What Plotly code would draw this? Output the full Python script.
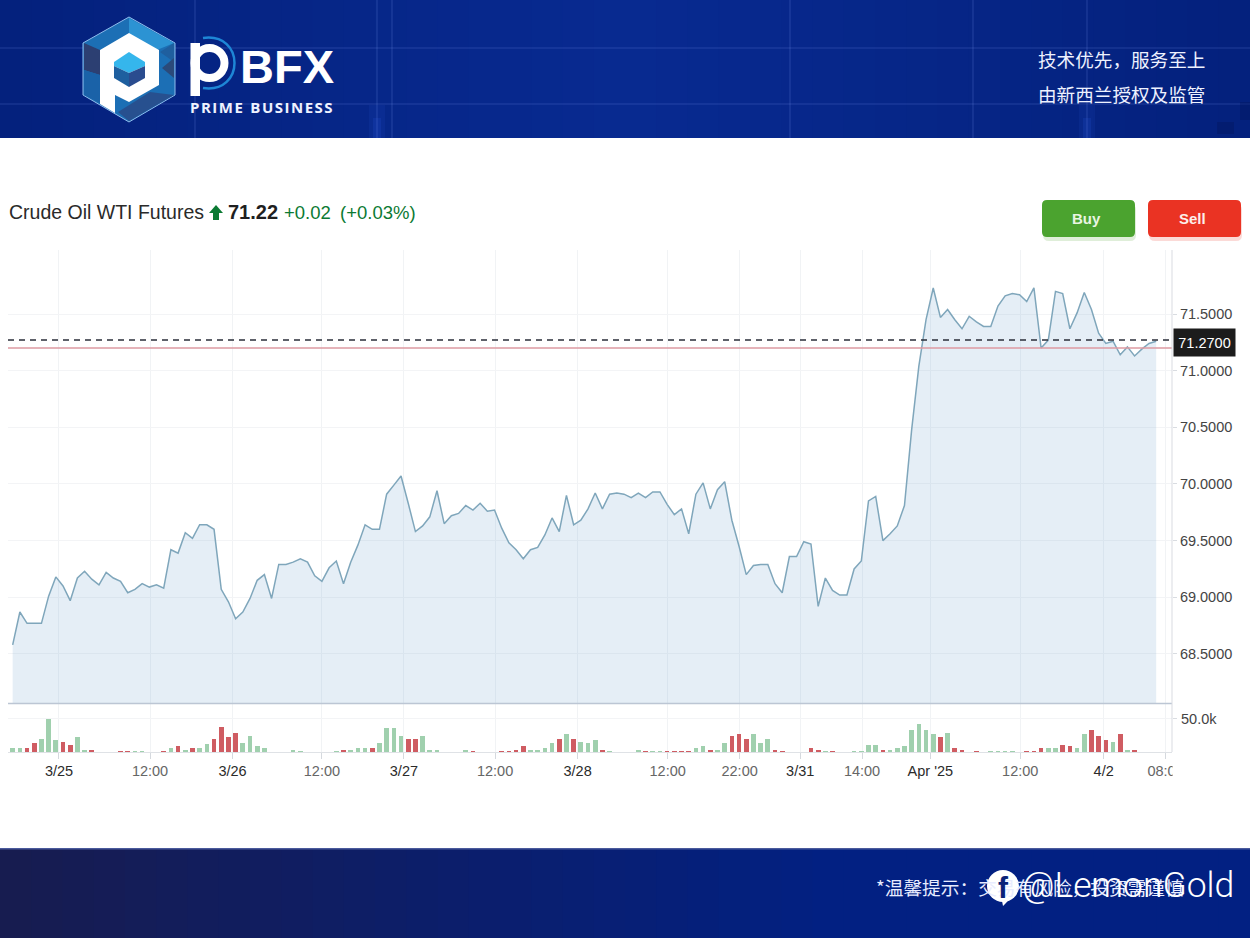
import plotly.graph_objects as go
from plotly.subplots import make_subplots

W, H = 1250, 938
SANS = "Liberation Sans, Arial"
CJK = "Noto Sans CJK SC"

# values
close = [
    68.58, 68.87, 68.77, 68.77, 68.77, 69.01, 69.18, 69.10, 68.97, 69.17,
    69.23, 69.16, 69.11, 69.22, 69.17, 69.14, 69.04, 69.07, 69.12, 69.09,
    69.11, 69.08, 69.42, 69.39, 69.57, 69.52, 69.64, 69.64, 69.60, 69.07,
    68.96, 68.81, 68.87, 68.99, 69.15, 69.20, 68.99, 69.29, 69.29, 69.31,
    69.34, 69.31, 69.19, 69.14, 69.26, 69.32, 69.12, 69.31, 69.46, 69.64,
    69.60, 69.60, 69.91, 69.99, 70.07, 69.83, 69.58, 69.63, 69.71, 69.94,
    69.65, 69.72, 69.74, 69.81, 69.77, 69.83, 69.76, 69.77, 69.61, 69.48,
    69.42, 69.34, 69.42, 69.44, 69.55, 69.70, 69.58, 69.90, 69.64, 69.68,
    69.78, 69.92, 69.78, 69.91, 69.92, 69.91, 69.88, 69.92, 69.88, 69.93,
    69.93, 69.82, 69.73, 69.78, 69.56, 69.91, 70.01, 69.78, 69.95, 70.02,
    69.68, 69.45, 69.20, 69.28, 69.29, 69.29, 69.12, 69.04, 69.36, 69.36,
    69.49, 69.47, 68.92, 69.17, 69.06, 69.02, 69.02, 69.25, 69.32, 69.85,
    69.89, 69.50, 69.56, 69.63, 69.81, 70.48, 71.04, 71.45, 71.73, 71.47,
    71.54, 71.45, 71.37, 71.48, 71.43, 71.39, 71.39, 71.57, 71.66, 71.68,
    71.67, 71.61, 71.73, 71.20, 71.27, 71.70, 71.68, 71.37, 71.51, 71.69,
    71.54, 71.33, 71.24, 71.26, 71.14, 71.21, 71.13, 71.19, 71.24, 71.26,
]
volume_k = [
    5.6, 5.6, 6.1, 13.1, 20.2, 50.0, 17.7, 15.2, 10.6, 22.2,
    3.5, 3.5, 0, 0, 0, 1.5, 1.5, 1.0, 1.0, 0,
    0, 1.5, 6.1, 8.6, 3.5, 6.1, 5.6, 12.6, 20.2, 38.4,
    22.2, 29.3, 13.1, 24.2, 8.6, 5.6, 0, 0, 0, 3.0,
    1.0, 0, 0, 0, 0, 1.0, 3.5, 3.0, 5.6, 5.6,
    5.6, 13.1, 35.9, 35.9, 24.2, 20.2, 20.2, 24.2, 3.5, 3.5,
    0, 0, 0, 3.5, 1.5, 0, 0, 0, 1.5, 1.5,
    3.5, 8.6, 3.5, 3.5, 5.6, 13.1, 20.2, 26.8, 20.2, 15.2,
    13.1, 17.7, 3.5, 0.5, 0, 0, 0, 3.5, 1.0, 1.0,
    1.0, 1.5, 1.5, 1.0, 1.0, 5.6, 8.6, 3.5, 3.5, 13.1,
    24.2, 26.8, 20.2, 26.8, 13.1, 20.2, 3.5, 1.0, 0, 0,
    0, 5.6, 3.5, 1.0, 1.0, 0, 0, 1.0, 1.0, 10.6,
    10.6, 3.5, 3.0, 5.6, 8.6, 33.3, 42.9, 33.3, 26.8, 22.2,
    29.3, 5.6, 3.5, 0, 1.0, 0, 1.0, 1.0, 1.0, 1.0,
    0, 1.0, 1.0, 5.6, 5.6, 5.6, 10.6, 8.6, 5.6, 26.8,
    33.3, 24.2, 17.7, 15.2, 26.8, 3.5, 3.5, 0, 0, 0,
]
volume_side = list(
    "ggrrgggrrg" "grgggrrggg" "grgrgrggrr" "rrgggggggg" "ggggggrggg"
    "rggggrrggg" "ggggrgggrr" "rrggggrgrg" "ggrgggggrg" "grrrrggrgg"
    "rrrgggrrgg" "grrgrggggg" "grgggggggr" "grrgrggggg" "grrrggrrgg"
    "rrrgrgrggg"
)
tick_pos = [6.44, 19.1, 30.57, 43.0, 54.4, 67.08, 78.55, 91.07, 101.08, 109.5,
            118.1, 127.6, 140.1, 151.7, 160.3]
tick_labels = ["3/25", "12:00", "3/26", "12:00", "3/27", "12:00", "3/28", "12:00",
               "22:00", "3/31", "14:00", "Apr '25", "12:00", "4/2", "08:00"]
price_ticks = [68.5, 69.0, 69.5, 70.0, 70.5, 71.0, 71.5]
last_price = 71.27
prev_line = 71.20

index = list(range(len(close)))


def px(x):
    return x / W


def py(y):
    return 1 - y / H


def rect(x0, y0, x1, y1, color, layer="above"):
    return dict(type="rect", xref="paper", yref="paper", x0=px(x0), x1=px(x1),
                y0=py(y0), y1=py(y1), fillcolor=color, line_width=0, layer=layer)


def poly(points, color, line=None):
    path = "M" + " L".join(f"{px(x):.5f},{py(y):.5f}" for x, y in points) + " Z"
    return dict(type="path", xref="paper", yref="paper", path=path, fillcolor=color,
                line=dict(color=line or "rgba(0,0,0,0)", width=1 if line else 0), layer="above")


def circle(cx, cy, r, color, line=None, lw=0):
    return dict(type="circle", xref="paper", yref="paper", x0=px(cx - r), x1=px(cx + r),
                y0=py(cy + r), y1=py(cy - r), fillcolor=color,
                line=dict(color=line or "rgba(0,0,0,0)", width=lw), layer="above")


def round_box(x0, y0, x1, y1, r, color):
    path = (f"M{px(x0 + r)},{py(y0)} L{px(x1 - r)},{py(y0)} Q{px(x1)},{py(y0)} {px(x1)},{py(y0 + r)} "
            f"L{px(x1)},{py(y1 - r)} Q{px(x1)},{py(y1)} {px(x1 - r)},{py(y1)} "
            f"L{px(x0 + r)},{py(y1)} Q{px(x0)},{py(y1)} {px(x0)},{py(y1 - r)} "
            f"L{px(x0)},{py(y0 + r)} Q{px(x0)},{py(y0)} {px(x0 + r)},{py(y0)} Z")
    return dict(type="path", xref="paper", yref="paper", path=path,
                fillcolor=color, line_width=0, layer="above")


def mix(c0, c1, t):
    return "rgb(" + ",".join(str(round(a + (b - a) * t)) for a, b in zip(c0, c1)) + ")"


def label(x, y, text, size, color, family=SANS, anchor="left", bold=False, weight=None):
    font = dict(size=size, color=color, family=family)
    if weight:
        font["weight"] = weight
    return dict(xref="paper", yref="paper", x=px(x), y=py(y), text=f"<b>{text}</b>" if bold else text,
                showarrow=False, xanchor=anchor, yanchor="middle", font=font)


fig = make_subplots(rows=2, cols=1, shared_xaxes=True, vertical_spacing=0)

fig.add_trace(go.Scatter(x=index, y=close, mode="lines", fill="tozeroy",
                         line=dict(color="#7fa6bb", width=1.5),
                         fillcolor="rgba(125,170,210,0.2)", hoverinfo="skip"), row=1, col=1)
fig.add_trace(go.Bar(x=index, y=volume_k, width=0.65,
                     marker=dict(color=["#a0d0ae" if s == "g" else "#cf5c62" for s in volume_side],
                                 line_width=0),
                     hoverinfo="skip"), row=2, col=1)

# header / footer bands
shapes = []
strips = 40
for i in range(strips):
    t = i / (strips - 1)
    head = mix((4, 33, 125), (8, 42, 145), 1 - abs(2 * t - 1))
    foot = mix((23, 28, 80), (2, 32, 130), min(1, t * 1.5))
    x0, x1 = W * i / strips, W * (i + 1) / strips + 1
    shapes.append(rect(x0, 0, x1, 138, head, layer="below"))
    shapes.append(rect(x0, 849, x1, H, foot, layer="below"))
for x in (195, 377, 392, 790, 973, 1087):
    shapes.append(rect(x - 0.8, 0, x + 0.8, 138, "rgba(140,170,255,0.15)", layer="below"))
for y in (48, 104):
    shapes.append(rect(0, y - 0.7, W, y + 0.7, "rgba(140,170,255,0.15)", layer="below"))
# soft glow under the bright verticals
for x in (377, 1087):
    shapes.append(rect(x - 8, 105, x + 8, 138, "rgba(60,110,255,0.08)", layer="below"))
    shapes.append(rect(x - 4, 118, x + 4, 138, "rgba(60,110,255,0.12)", layer="below"))
shapes.append(rect(1217, 122, 1234, 134, "rgba(2,20,90,0.35)", layer="below"))
shapes.append(rect(1240, 102, 1250, 120, "rgba(2,20,90,0.35)", layer="below"))
shapes.append(rect(0, 848, W, 849.5, "#4a5a9c", layer="below"))

# logo
hexagon = [(129, 17), (175, 43), (175, 95), (129, 122), (83, 95), (83, 43)]
shapes.append(poly(hexagon, "#1c6fb5", line="#8fbcec"))
shapes.append(poly([(129, 18), (174, 43), (152, 52), (129, 34)], "#2c93d3"))
shapes.append(poly([(84, 43), (100, 50), (100, 75), (84, 70)], "#2c3f72"))
shapes.append(poly([(84, 70), (100, 75), (100, 103), (84, 95)], "#1a62a8"))
shapes.append(poly([(174, 43), (174, 62), (160, 52)], "#1f5f9f"))
shapes.append(poly([(174, 58), (174, 78), (162, 68)], "#2b4a7a"))
shapes.append(poly([(129, 121), (174, 95), (150, 92), (118, 112)], "#27508f"))
shapes.append(poly([(129, 33), (159, 50), (159, 85), (129, 102), (115, 95), (115, 113), (100, 104), (100, 50)], "#ffffff"))
shapes.append(poly([(129, 52), (145, 62), (145, 66), (129, 73), (114, 66), (114, 62)], "#35b6ec"))
shapes.append(poly([(114, 66), (129, 73), (129, 87), (114, 78)], "#1e5f9f"))
shapes.append(poly([(145, 66), (145, 78), (129, 87), (129, 73)], "#2a4c8f"))

# wordmark p
shapes.append(dict(type="path", xref="paper", yref="paper", layer="above",
                   path=f"M{px(203)},{py(38)} C{px(245)},{py(32)} {px(245)},{py(94)} {px(203)},{py(88)}",
                   line=dict(color="#1e86d6", width=2.5)))
shapes.append(circle(209.5, 63, 15, "rgba(0,0,0,0)", line="#ffffff", lw=8))
shapes.append(rect(190.5, 43, 200, 96, "#ffffff"))

# buttons
shapes.append(round_box(1043, 204, 1136, 241, 6, "rgba(75,163,47,0.18)"))
shapes.append(round_box(1149, 204, 1242, 241, 6, "rgba(234,51,35,0.18)"))
shapes.append(round_box(1042, 200, 1135, 237, 5, "#4ba32f"))
shapes.append(round_box(1148, 200, 1241, 237, 5, "#ea3323"))

# up arrow in the title
shapes.append(poly([(216, 205), (223, 213), (219, 213), (219, 220), (213, 220), (213, 213), (209, 213)], "#0b7a33"))

# price lines
shapes.append(dict(type="line", xref="x domain", yref="y", x0=0, x1=1, y0=prev_line, y1=prev_line,
                   line=dict(color="#dd9aa2", width=1.5), layer="above"))
shapes.append(dict(type="line", xref="x domain", yref="y", x0=0, x1=1, y0=last_price, y1=last_price,
                   line=dict(color="#2a2e39", width=1.5, dash="6px,5px"), layer="above"))

# pane frame
shapes.append(rect(8, 702.8, 1172, 704.2, "#bcc6d4"))
shapes.append(rect(1171.5, 250, 1172.5, 752, "#d9dce1"))
# crop of the last time label
shapes.append(rect(1172.6, 760, 1190, 790, "#ffffff"))

# watermark icon
shapes.append(circle(1003, 886, 16, "#ffffff"))
shapes.append(poly([(996, 896), (1012, 896), (1006, 903), (1003, 906), (1002, 901)], "#ffffff"))

annotations = [
    label(7, 212, "Crude Oil WTI Futures", 19.5, "#2a2a2a"),
    label(225.5, 212, "71.22", 20, "#1f1f1f", bold=True),
    label(282, 212, "+0.02", 18.5, "#0b7a33"),
    label(338, 212, "(+0.03%)", 18.5, "#0b7a33"),
    label(1086, 218.5, "Buy", 15, "#e9f5e2", anchor="center", bold=True),
    label(1192, 218.5, "Sell", 15, "#fdeeea", anchor="center", bold=True),
    label(1207, 58, "技术优先，服务至上", 18.6, "#eef2ff", family=CJK, anchor="right"),
    label(1207, 94, "由新西兰授权及监管", 18.6, "#eef2ff", family=CJK, anchor="right"),
    label(238, 66, "BFX", 47, "#ffffff", bold=True),
    label(188, 107, "P\u200aR\u200aI\u200aM\u200aE\u2002B\u200aU\u200aS\u200aI\u200aN\u200aE\u200aS\u200aS", 15,
          "#eef2ff", family="Open Sans", bold=True),
    label(874, 886, "*温馨提示：交易有风险，投资需谨慎", 18.7, "#e8ecff", family=CJK),
    label(1003, 887, "f", 30, "#0a2378", anchor="center", bold=True),
    label(1020, 885, "@LemonGold", 35.5, "#ffffff", family="Roboto", weight=300),
    dict(xref="paper", yref="paper", x=px(1173), y=py(342), text="71.2700", showarrow=False,
         xanchor="left", yanchor="middle", bgcolor="#1c1c1c", borderpad=4, width=53, height=19,
         font=dict(size=14.5, color="#ffffff", family=SANS)),
    label(1179, 719, "50.0k", 14.5, "#444444"),
]

# dates are darker than the times on the time axis
tick_text = [t if ":" in t else f'<span style="color:#2b2b2b">{t}</span>' for t in tick_labels]

fig.update_layout(
    width=W, height=H, margin=dict(l=0, r=0, t=0, b=0),
    paper_bgcolor="#ffffff", plot_bgcolor="#ffffff", showlegend=False,
    shapes=shapes, annotations=annotations, bargap=0,
)
fig.update_xaxes(range=[-0.65, 161.2], domain=[px(8), px(1172)], showgrid=True, automargin=False,
                 gridcolor="#f1f3f5", gridwidth=1, zeroline=False, tickvals=tick_pos)
fig.update_xaxes(showticklabels=False, ticks="", row=1, col=1)
fig.update_xaxes(ticktext=tick_text, showticklabels=True, ticks="outside", ticklen=6, tickcolor="#d5d9de",
                 tickfont=dict(size=14.5, color="#666666", family=SANS), showline=True, linecolor="#dfe2e6",
                 row=2, col=1)
fig.update_yaxes(side="right", domain=[py(703), py(250)], range=[68.067, 72.065], tickvals=price_ticks, automargin=False,
                 tickformat=".4f", showgrid=True, gridcolor="#f3f4f6", zeroline=False, ticks="outside", ticklen=4,
                 tickcolor="#d9dce1", tickfont=dict(size=14.5, color="#444444", family=SANS), row=1, col=1)
fig.update_yaxes(side="right", domain=[py(752), py(704)], range=[0, 72.7], tickvals=[50], automargin=False,
                 showticklabels=False, showgrid=True, gridcolor="#f3f4f6", zeroline=False, ticks="outside",
                 ticklen=4, tickcolor="#d9dce1", row=2, col=1)

fig.write_html("out.html", config={"responsive": False, "displayModeBar": False},
               post_script="document.body.style.margin='0';document.body.style.overflow='hidden';")
